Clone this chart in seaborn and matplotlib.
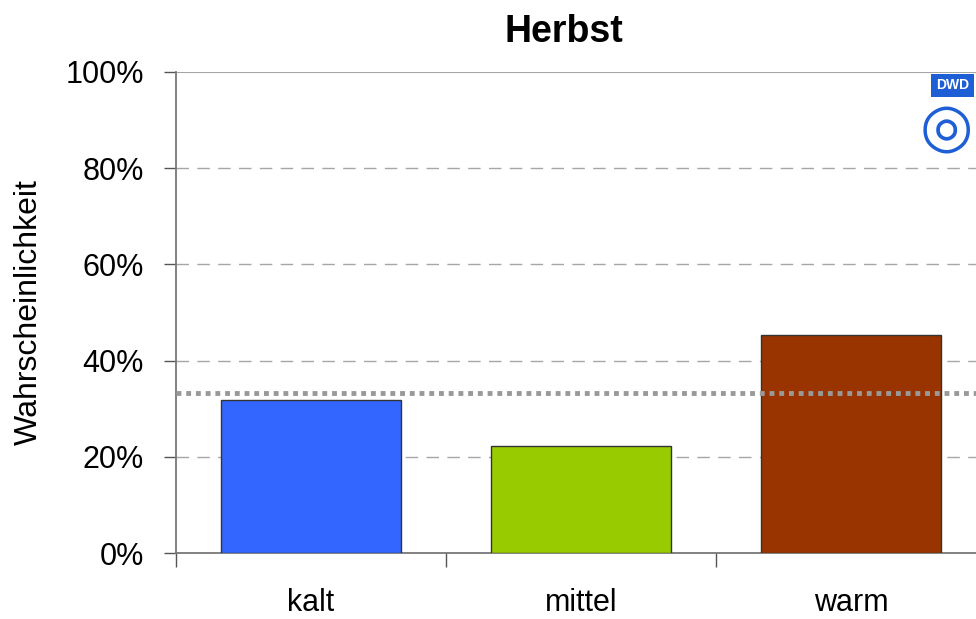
import matplotlib
matplotlib.use("Agg")
import matplotlib.pyplot as plt
import seaborn as sns
import pandas as pd
from matplotlib.ticker import FixedLocator, PercentFormatter

# ── Data ─────────────────────────────────────────────────────
categories = ["kalt", "mittel", "warm"]
probabilities = [31.8, 22.3, 45.3]
bar_colors = ["#3366FF", "#99CC00", "#993300"]
climatology = 100 / 3
y_ticks = [0, 20, 40, 60, 80, 100]

df = pd.DataFrame({"Kategorie": categories, "Wahrscheinlichkeit": probabilities})

sns.set_style("white")
plt.rcParams["font.family"] = ["Liberation Sans", "DejaVu Sans"]
plt.rcParams["text.color"] = "black"
plt.rcParams["xtick.color"] = "black"
plt.rcParams["ytick.color"] = "black"
plt.rcParams["axes.labelcolor"] = "black"

fig = plt.figure(figsize=(9.76, 6.19), dpi=100)
ax = fig.add_axes([0.1803, 0.1066, 0.83, 0.7771])

sns.barplot(data=df, x="Kategorie", y="Wahrscheinlichkeit", hue="Kategorie",
            palette=bar_colors, saturation=1, width=0.667, edgecolor="#333333",
            linewidth=1, legend=False, ax=ax, zorder=3)

# gridlines
for t in y_ticks[1:-1]:
    ax.axhline(t, color="#a6a6a6", lw=1, ls=(0, (9, 6)), zorder=1)
ax.axhline(100, color="#a6a6a6", lw=1.5, zorder=1)
ax.axhline(climatology, color="#999999", lw=3.5, ls=(0, (1, 1)), zorder=4)

ax.set_xlim(-0.5, 2.5)
ax.set_ylim(0, 100)
ax.yaxis.set_major_locator(FixedLocator(y_ticks))
ax.yaxis.set_major_formatter(PercentFormatter(decimals=0))

# category boundaries as ticks
ax.set_xticks([0, 1, 2])
ax.set_xticks([-0.5, 0.5, 1.5, 2.5], minor=True)
ax.tick_params(axis="x", which="major", length=0, pad=25, labelsize=22)
ax.tick_params(axis="x", which="minor", length=10, width=1, color="#555555",
               direction="out", bottom=True)
ax.tick_params(axis="y", length=9, width=1, color="#555555", labelcolor="black",
               direction="out", left=True, labelsize=22, pad=14)

for side in ["top", "right"]:
    ax.spines[side].set_visible(False)
for side in ["left", "bottom"]:
    ax.spines[side].set_color("#777777")
    ax.spines[side].set_linewidth(1.3)

ax.set_xlabel("")
ax.set_ylabel("Wahrscheinlichkeit", fontsize=23)
ax.yaxis.set_label_coords(-0.163, 0.5)
fig.text(0.578, 0.948, "Herbst", fontsize=27, fontweight="bold",
         ha="center", va="center")

# simple DWD logo mark
fig.text(0.976, 0.862, "DWD", color="white", fontsize=10, fontweight="bold",
         ha="center", va="center",
         bbox=dict(boxstyle="square,pad=0.35", fc="#1f5fd6", ec="none"))
fig.text(0.97, 0.79, "\u25CE", color="#1f5fd6", fontsize=44,
         ha="center", va="center", family=["DejaVu Sans"])

fig.savefig("out.png", dpi=100)
